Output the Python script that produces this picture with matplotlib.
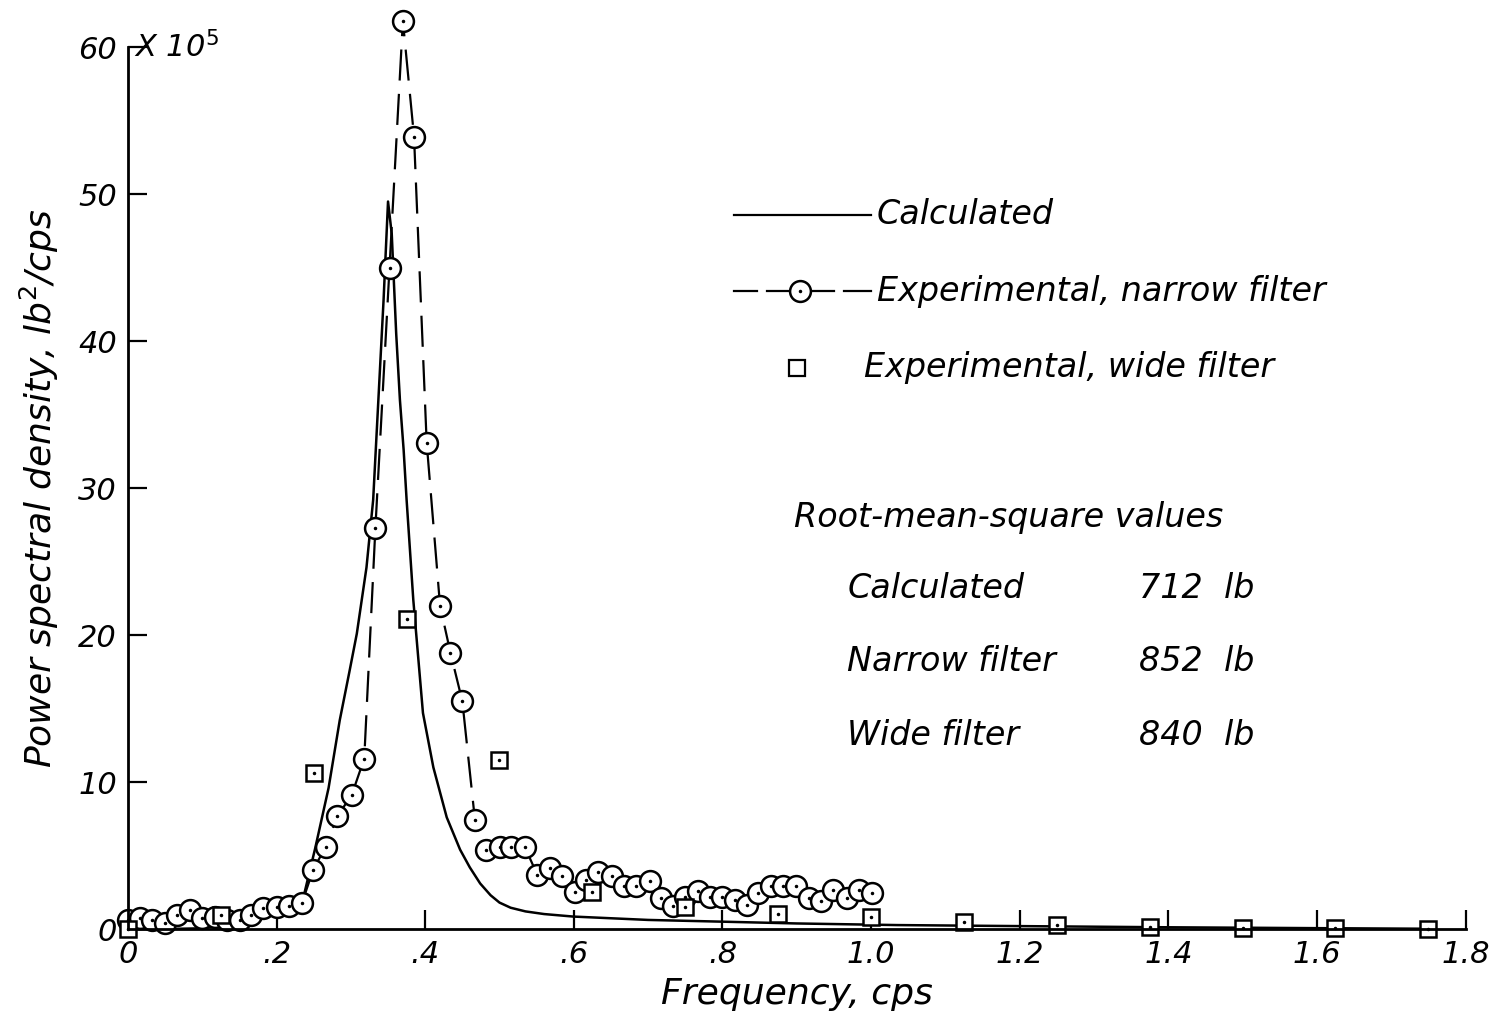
import numpy as np
import matplotlib
matplotlib.use("Agg")
import matplotlib.pyplot as plt

# calculated power spectral density (x 10^5 lb^2/cps)
calc_f = [0.0, 0.05, 0.10, 0.15, 0.20, 0.234, 0.252, 0.270, 0.285, 0.298, 0.308, 0.321,
          0.330, 0.337, 0.344, 0.350, 0.355, 0.361, 0.366, 0.371, 0.375, 0.384,
          0.397, 0.411, 0.429, 0.447, 0.460, 0.474, 0.488, 0.500, 0.515, 0.535, 0.56,
          0.599, 0.70, 0.801, 0.90, 1.035, 1.2, 1.4, 1.6, 1.75]
calc_p = [0.0, 0.0, 0.05, 0.4, 1.1, 1.7, 5.5, 9.6, 14.2, 17.5, 20.1, 24.6,
          29.2, 36.0, 42.8, 49.5, 47.3, 40.5, 36.0, 32.6, 29.2, 22.4,
          14.7, 11.0, 7.6, 5.4, 4.2, 3.1, 2.3, 1.8, 1.45, 1.2, 1.02,
          0.85, 0.62, 0.5, 0.38, 0.27, 0.2, 0.12, 0.06, 0.02]

# experimental, narrow filter
narrow_f = [0.0, 0.016, 0.033, 0.050, 0.066, 0.083, 0.100, 0.117, 0.133, 0.151,
            0.166, 0.182, 0.200, 0.217, 0.234, 0.249, 0.266, 0.282, 0.301, 0.318,
            0.333, 0.352, 0.370, 0.385, 0.402, 0.420, 0.434, 0.450, 0.467, 0.482,
            0.501, 0.516, 0.534, 0.551, 0.568, 0.584, 0.602, 0.616, 0.633, 0.651,
            0.668, 0.684, 0.702, 0.718, 0.733, 0.750, 0.767, 0.783, 0.800, 0.817,
            0.833, 0.848, 0.866, 0.882, 0.899, 0.917, 0.933, 0.949, 0.967, 0.984,
            1.001]
narrow_p = [0.6, 0.72, 0.6, 0.38, 0.95, 1.3, 0.72, 0.84, 0.6, 0.6,
            0.95, 1.4, 1.5, 1.56, 1.74, 4.0, 5.6, 7.7, 9.1, 11.6,
            27.3, 45.0, 61.8, 53.9, 33.1, 22.0, 18.8, 15.5, 7.4, 5.4,
            5.56, 5.56, 5.6, 3.67, 4.17, 3.6, 2.54, 3.33, 3.85, 3.6,
            2.9, 2.9, 3.26, 2.13, 1.56, 2.15, 2.58, 2.15, 2.15, 1.97,
            1.63, 2.47, 2.95, 2.95, 2.95, 2.08, 1.9, 2.65, 2.08, 2.65,
            2.47]

# experimental, wide filter
wide_f = [0.0, 0.125, 0.25, 0.375, 0.5, 0.625, 0.75, 0.875, 1.0, 1.125,
          1.25, 1.375, 1.5, 1.625, 1.75]
wide_p = [0.0, 0.95, 10.6, 21.1, 11.5, 2.5, 1.5, 1.05, 0.8, 0.5,
          0.3, 0.15, 0.1, 0.05, 0.0]

xticks = [0, 0.2, 0.4, 0.6, 0.8, 1.0, 1.2, 1.4, 1.6, 1.8]
xticklabels = ["0", ".2", ".4", ".6", ".8", "1.0", "1.2", "1.4", "1.6", "1.8"]
yticks = [0, 10, 20, 30, 40, 50, 60]

plt.rcParams['font.family'] = ['DejaVu Sans']
txt = dict(style='italic', fontweight='light', color='black')

fig = plt.figure(figsize=(15, 10.26), dpi=100)
ax = fig.add_axes([0.0853, 0.0945, 0.8917, 0.8595])

ax.plot(calc_f, calc_p, color='black', lw=1.8, clip_on=False)
ax.plot(narrow_f, narrow_p, color='black', lw=1.6, dashes=(14, 6),
        marker='o', ms=15, mfc='white', mec='black', mew=1.8, clip_on=False)
ax.plot(narrow_f, narrow_p, ls='none', marker='.', ms=3, color='black', clip_on=False)
ax.plot(wide_f, wide_p, ls='none', marker='s', ms=12, mfc='white', mec='black',
        mew=1.8, clip_on=False)
ax.plot(wide_f, wide_p, ls='none', marker='.', ms=3, color='black', clip_on=False)

ax.set_xlim(0, 1.8)
ax.set_ylim(0, 60)
ax.set_xticks(xticks)
ax.set_xticklabels(xticklabels, **txt)
ax.set_yticks(yticks)
ax.set_yticklabels([str(v) for v in yticks], **txt)
ax.tick_params(direction='in', length=14, width=1.6, labelsize=22, pad=8)
for s in ['top', 'right']:
    ax.spines[s].set_visible(False)
for s in ['left', 'bottom']:
    ax.spines[s].set_linewidth(2)

ax.set_xlabel("Frequency, cps", fontsize=26, labelpad=6, **txt)
ax.set_ylabel("Power spectral density, lb$^2$/cps", fontsize=26, labelpad=12, **txt)
ax.text(0.008, 60, "X 10$^5$", fontsize=22, va='center', ha='left', **txt)

# legend drawn by hand
ax.plot([0.816, 1.0], [48.6, 48.6], color='black', lw=1.6, clip_on=False)
ax.text(1.008, 48.6, "Calculated", fontsize=24, va='center', **txt)
ax.plot([0.816, 0.846], [43.4, 43.4], color='black', lw=1.6)
ax.plot([0.860, 0.950], [43.4, 43.4], color='black', lw=1.6)
ax.plot([0.964, 1.0], [43.4, 43.4], color='black', lw=1.6)
ax.plot([0.905], [43.4], marker='o', ms=15, mfc='white', mec='black', mew=1.8)
ax.plot([0.905], [43.4], marker='.', ms=3, color='black')
ax.text(1.008, 43.4, "Experimental, narrow filter", fontsize=24, va='center', **txt)
ax.plot([0.9], [38.2], marker='s', ms=12, mfc='white', mec='black', mew=1.6)
ax.text(0.99, 38.2, "Experimental, wide filter", fontsize=24, va='center', **txt)

ax.text(0.896, 28.0, "Root-mean-square values", fontsize=24, va='center', **txt)
rows = [("Calculated", "712  lb"), ("Narrow filter", "852  lb"), ("Wide filter", "840  lb")]
for i, (name, val) in enumerate(rows):
    y = 23.2 - 5.0 * i
    ax.text(0.968, y, name, fontsize=24, va='center', **txt)
    ax.text(1.36, y, val, fontsize=24, va='center', **txt)

fig.savefig("out.png", dpi=100)
